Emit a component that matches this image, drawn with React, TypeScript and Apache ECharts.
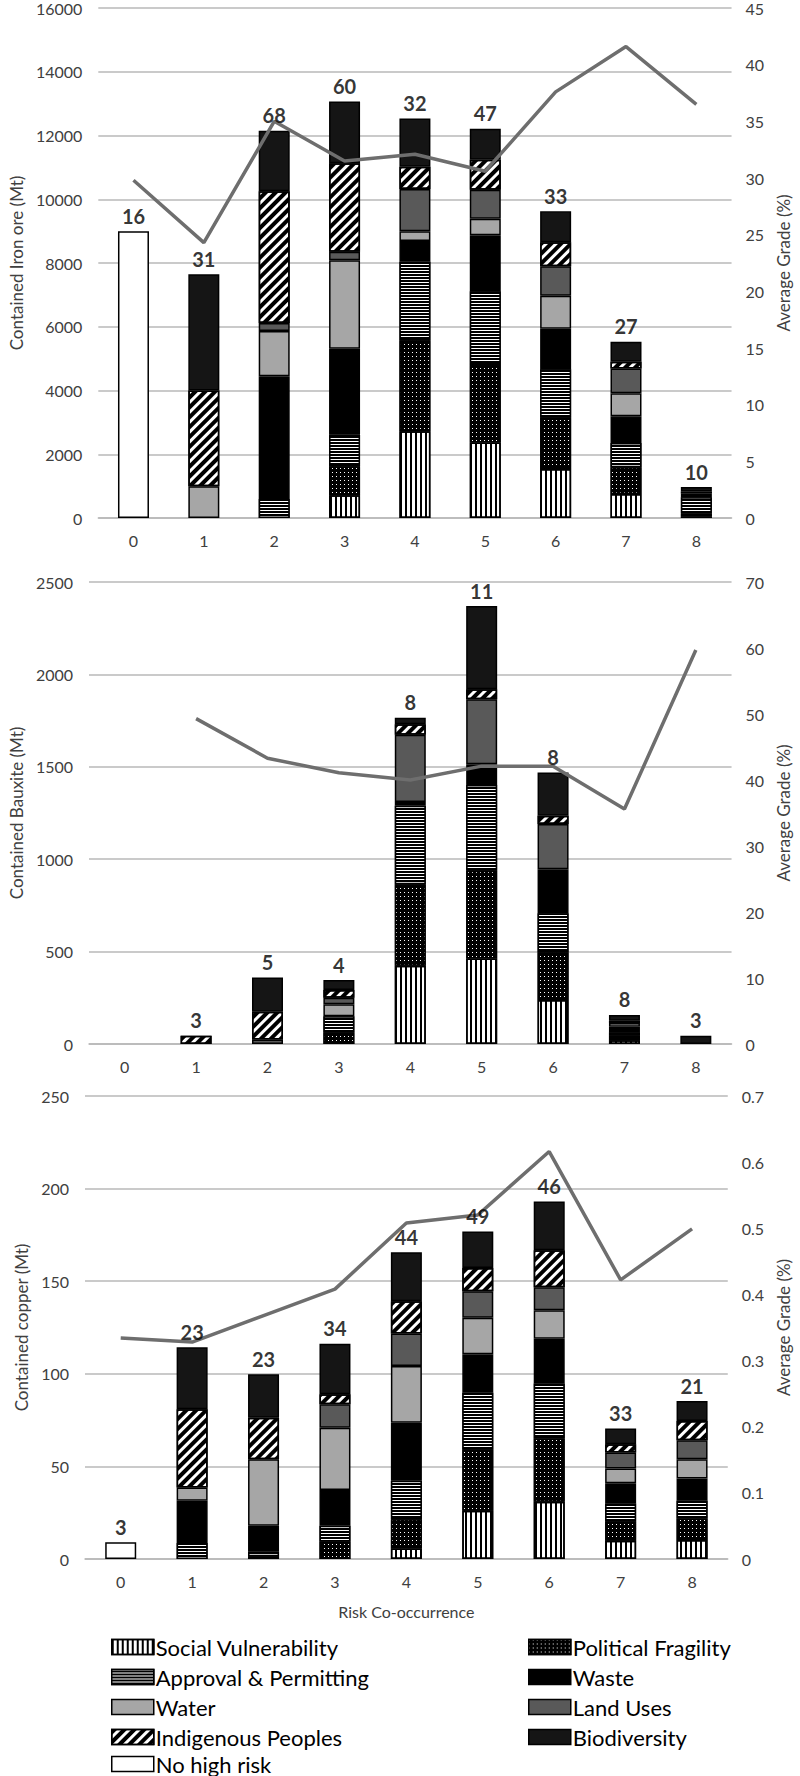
import React, { useEffect, useRef } from "react";
import * as echarts from "echarts";

const FONT = 'Lato, "Open Sans", sans-serif';

const categories = ["0", "1", "2", "3", "4", "5", "6", "7", "8"];
const riskNames = [
  "Social Vulnerability",
  "Political Fragility",
  "Approval & Permitting",
  "Waste",
  "Water",
  "Land Uses",
  "Indigenous Peoples",
  "Biodiversity",
];
const noRiskName = "No high risk";

// ---- Iron ore (Mt) ----
const ironNoRisk = [9000, 0, 0, 0, 0, 0, 0, 0, 0];
const ironSocial = [0, 0, 0, 710, 2725, 2370, 1540, 750, 50];
const ironPolitical = [0, 0, 0, 910, 2855, 2460, 1620, 840, 80];
const ironApproval = [0, 0, 600, 1000, 2460, 2280, 1510, 760, 520];
const ironWaste = [0, 0, 3850, 2690, 650, 1760, 1270, 840, 120];
const ironWater = [0, 1000, 1420, 2780, 310, 520, 1030, 720, 0];
const ironLand = [0, 0, 250, 260, 1320, 910, 930, 780, 0];
const ironIndigenous = [0, 3000, 4130, 2780, 700, 940, 750, 210, 60];
const ironBiodiversity = [0, 3650, 1900, 1940, 1510, 970, 970, 630, 140];
const ironGrade = [29.8, 24.3, 35.0, 31.5, 32.1, 30.6, 37.6, 41.6, 36.5];
const ironCounts = [16, 31, 68, 60, 32, 47, 33, 27, 10];

// ---- Bauxite (Mt) ----
const bauxSocial = [0, 0, 0, 0, 424, 463, 238, 20, 0];
const bauxPolitical = [0, 0, 0, 63, 441, 474, 258, 25, 0];
const bauxApproval = [0, 0, 0, 87, 424, 465, 211, 18, 0];
const bauxWaste = [0, 0, 0, 0, 21, 112, 239, 31, 0];
const bauxWater = [0, 0, 0, 65, 0, 0, 0, 19, 0];
const bauxLand = [0, 0, 25, 35, 363, 352, 244, 0, 0];
const bauxIndigenous = [0, 45, 150, 42, 57, 54, 45, 13, 0];
const bauxBiodiversity = [0, 0, 185, 54, 36, 450, 234, 31, 45];
const bauxGrade = [null, 49.3, 43.3, 41.1, 40.0, 42.1, 42.1, 35.6, 59.7];
const bauxCounts = [null, 3, 5, 4, 8, 11, 8, 8, 3];

// ---- Copper (Mt) ----
const copNoRisk = [9, 0, 0, 0, 0, 0, 0, 0, 0];
const copSocial = [0, 0, 0, 0, 5.7, 26, 30.9, 9.9, 10.2];
const copPolitical = [0, 0, 1.5, 9.3, 15.8, 33.3, 34.1, 10.2, 11.7];
const copApproval = [0, 8.6, 2.5, 8.7, 20.7, 30.5, 29.8, 9.9, 9.5];
const copWaste = [0, 22.8, 14, 19.2, 31.4, 20.7, 24.1, 10.9, 12.1];
const copWater = [0, 7.2, 35.9, 33.7, 30.6, 19.7, 15.4, 8, 10.4];
const copLand = [0, 0, 0, 12.6, 17.6, 14.4, 12.4, 8.6, 10.2];
const copIndigenous = [0, 42.2, 22.4, 5.4, 17.4, 12.5, 20, 4.5, 10.4];
const copBiodiversity = [0, 33.6, 23.4, 27.3, 26.4, 19.8, 26.4, 8.4, 10.8];
const copGrade = [0.334, 0.328, 0.368, 0.408, 0.508, 0.52, 0.616, 0.422, 0.499];
const copCounts = [3, 23, 23, 34, 44, 49, 46, 33, 21];

// axis ticks
const ironAxis = { max: 16000, interval: 2000, gradeMax: 45, gradeInterval: 5 };
const bauxAxis = { max: 2500, interval: 500, gradeMax: 70, gradeInterval: 10 };
const copAxis = { max: 250, interval: 50, gradeMax: 0.7, gradeInterval: 0.1 };

// legend columns
const legendLeftColumn = ["Social Vulnerability", "Approval & Permitting", "Water", "Indigenous Peoples"];
const legendRightColumn = ["Political Fragility", "Waste", "Land Uses", "Biodiversity"];
const legendLastRow = ["No high risk"];

// ---- styles ----
const riskStyles: Record<string, any> = {
  "Social Vulnerability": {
    color: "#ffffff",
    decal: { symbol: "rect", color: "#000000", dashArrayX: [2, 3], dashArrayY: [4, 0], symbolSize: 1, rotation: 0 },
  },
  "Political Fragility": {
    color: "#000000",
    decal: { symbol: "rect", color: "#ffffff", dashArrayX: [1, 3], dashArrayY: [1, 3], symbolSize: 1, rotation: 0 },
  },
  "Approval & Permitting": {
    color: "#000000",
    decal: { symbol: "rect", color: "#ffffff", dashArrayX: [4, 0], dashArrayY: [1, 2], symbolSize: 1, rotation: 0 },
  },
  Waste: { color: "#000000" },
  Water: { color: "#a6a6a6" },
  "Land Uses": { color: "#595959" },
  "Indigenous Peoples": {
    color: "#ffffff",
    decal: { symbol: "rect", color: "#000000", dashArrayX: [4, 3], dashArrayY: [4, 0], symbolSize: 1, rotation: Math.PI / 4 },
  },
  Biodiversity: { color: "#151515" },
  "No high risk": { color: "#ffffff" },
};

const GRID_COLOR = "#b8b8b8";
const TEXT_COLOR = "#404040";

const fmtNum = (v: number) => String(Math.round(v * 1000) / 1000);

function toStack(arr: number[]) {
  return arr.map((v) => (v === 0 ? null : v));
}

function barSeries(name: string, values: number[], gi: number) {
  const st = riskStyles[name];
  const itemStyle: any = { color: st.color, borderColor: "#000", borderWidth: 1.5 };
  if (st.decal) itemStyle.decal = st.decal;
  return {
    name,
    type: "bar",
    xAxisIndex: gi,
    yAxisIndex: gi * 2,
    stack: "s" + gi,
    barWidth: 31,
    data: toStack(values),
    itemStyle,
    z: 2,
  };
}

function chartSeries(gi: number, segs: number[][], noRisk: number[] | null, grade: (number | null)[], counts: (number | null)[]) {
  const out: any[] = [];
  if (noRisk) out.push(barSeries(noRiskName, noRisk, gi));
  segs.forEach((arr, k) => out.push(barSeries(riskNames[k], arr, gi)));
  const totals = categories.map((_, c) => {
    let s = noRisk ? noRisk[c] : 0;
    segs.forEach((arr) => (s += arr[c]));
    return s;
  });
  out.push({
    name: "Average Grade",
    type: "line",
    xAxisIndex: gi,
    yAxisIndex: gi * 2 + 1,
    data: grade,
    symbol: "none",
    lineStyle: { color: "#6e6e6e", width: 3.5 },
    itemStyle: { color: "#6e6e6e" },
    z: 5,
  });
  out.push({
    name: "count",
    type: "scatter",
    xAxisIndex: gi,
    yAxisIndex: gi * 2,
    data: totals,
    symbolSize: 1,
    itemStyle: { color: "rgba(0,0,0,0)" },
    label: {
      show: true,
      position: "top",
      distance: 5,
      color: "#000",
      fontSize: 20,
      fontWeight: "bold",
      fontFamily: FONT,
      formatter: (p: any) => (counts[p.dataIndex] == null ? "" : String(counts[p.dataIndex])),
    },
    z: 6,
  });
  return out;
}

const grids = [
  { left: 85, width: 649, top: 7, height: 511 },
  { left: 85, width: 649, top: 582, height: 462 },
  { left: 85, width: 649, top: 1096, height: 463 },
];

function xAxis(gi: number, name?: string) {
  return {
    type: "category",
    gridIndex: gi,
    data: categories,
    axisTick: { show: false },
    axisLine: { show: true, lineStyle: { color: GRID_COLOR, width: 1.5 } },
    axisLabel: { fontSize: 16, color: TEXT_COLOR, margin: 14, fontFamily: FONT },
    name: name || "",
    nameLocation: "middle",
    nameGap: 44,
    nameTextStyle: { fontSize: 16, color: TEXT_COLOR, fontFamily: FONT },
  };
}

function yAxes(gi: number, name: string, ax: any, nameGap: number) {
  return [
    {
      type: "value",
      gridIndex: gi,
      min: 0,
      max: ax.max,
      interval: ax.interval,
      name,
      nameLocation: "middle",
      nameGap,
      nameTextStyle: { fontSize: 17, color: TEXT_COLOR, fontFamily: FONT },
      axisLine: { show: false },
      axisTick: { show: false },
      axisLabel: { fontSize: 16, color: TEXT_COLOR, margin: 16, fontFamily: FONT, formatter: fmtNum },
      splitLine: { show: true, lineStyle: { color: GRID_COLOR, width: 1.5 } },
    },
    {
      type: "value",
      gridIndex: gi,
      position: "right",
      min: 0,
      max: ax.gradeMax,
      interval: ax.gradeInterval,
      name: "Average Grade (%)",
      nameLocation: "middle",
      nameGap: 42,
      nameTextStyle: { fontSize: 17, color: TEXT_COLOR, fontFamily: FONT },
      axisLine: { show: false },
      axisTick: { show: false },
      axisLabel: { fontSize: 16, color: TEXT_COLOR, margin: 14, fontFamily: FONT, formatter: fmtNum },
      splitLine: { show: false },
    },
  ];
}

const legendCommon = {
  orient: "vertical",
  height: 130,
  padding: 0,
  itemWidth: 42,
  itemHeight: 15,
  itemGap: 8,
  icon: "rect",
  selectedMode: false,
  itemStyle: { borderColor: "#000", borderWidth: 1.5 },
  textStyle: { fontSize: 22, color: "#000", fontFamily: FONT, lineHeight: 21, padding: [0, 0, 0, -3] },
};

export default function App() {
  const ref = useRef<HTMLDivElement>(null);
  useEffect(() => {
    document.body.style.margin = "0";
    if (!ref.current) return;
    const chart = echarts.init(ref.current, undefined, { renderer: "svg" });
    const series = [
      ...chartSeries(
        0,
        [ironSocial, ironPolitical, ironApproval, ironWaste, ironWater, ironLand, ironIndigenous, ironBiodiversity],
        ironNoRisk,
        ironGrade,
        ironCounts
      ),
      ...chartSeries(
        1,
        [bauxSocial, bauxPolitical, bauxApproval, bauxWaste, bauxWater, bauxLand, bauxIndigenous, bauxBiodiversity],
        null,
        bauxGrade,
        bauxCounts
      ),
      ...chartSeries(
        2,
        [copSocial, copPolitical, copApproval, copWaste, copWater, copLand, copIndigenous, copBiodiversity],
        copNoRisk,
        copGrade,
        copCounts
      ),
    ];
    chart.setOption({
      animation: false,
      backgroundColor: "#ffffff",
      textStyle: { fontFamily: FONT },
      grid: grids,
      xAxis: [xAxis(0), xAxis(1), xAxis(2, "Risk Co-occurrence")],
      yAxis: [
        ...yAxes(0, "Contained Iron ore (Mt)", ironAxis, 68),
        ...yAxes(1, "Contained Bauxite (Mt)", bauxAxis, 60),
        ...yAxes(2, "Contained copper (Mt)", copAxis, 55),
      ],
      legend: [
        { ...legendCommon, left: 111, top: 1636, data: legendLeftColumn },
        { ...legendCommon, left: 528, top: 1636, data: legendRightColumn },
        { ...legendCommon, left: 111, top: 1753, height: 23, data: legendLastRow },
      ],
      series,
    });
    return () => chart.dispose();
  }, []);
  return <div ref={ref} style={{ width: 800, height: 1776 }} />;
}
